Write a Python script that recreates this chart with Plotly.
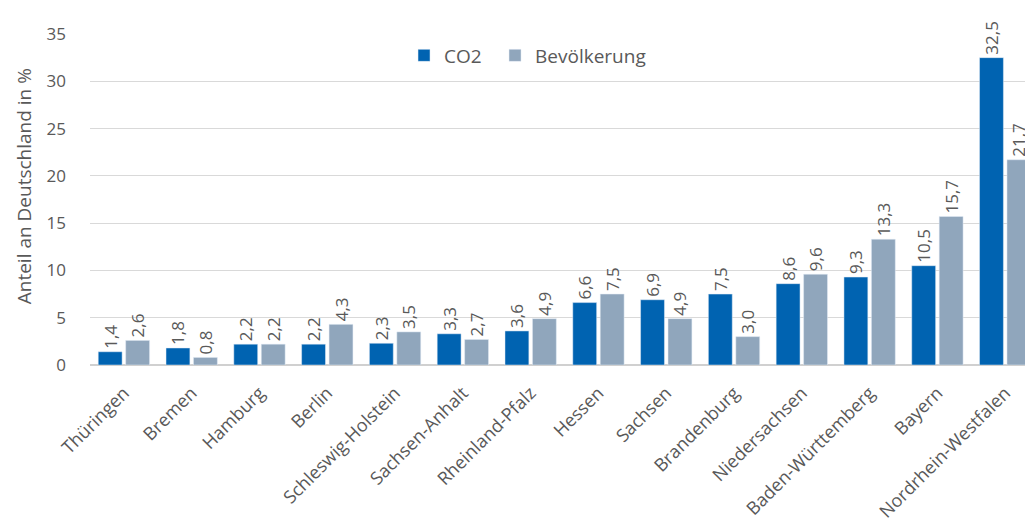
import plotly.graph_objects as go

states = ["Thüringen", "Bremen", "Hamburg", "Berlin", "Schleswig-Holstein", "Sachsen-Anhalt",
          "Rheinland-Pfalz", "Hessen", "Sachsen", "Brandenburg", "Niedersachsen",
          "Baden-Württemberg", "Bayern", "Nordrhein-Westfalen"]
co2 = [1.4, 1.8, 2.2, 2.2, 2.3, 3.3, 3.6, 6.6, 6.9, 7.5, 8.6, 9.3, 10.5, 32.5]
bevoelkerung = [2.6, 0.8, 2.2, 4.3, 3.5, 2.7, 4.9, 7.5, 4.9, 3.0, 9.6, 13.3, 15.7, 21.7]
y_ticks = [0, 5, 10, 15, 20, 25, 30, 35]


def fmt(v):
    return f"{v:.1f}".replace(".", ",")


FONT = "Open Sans, Lato, sans-serif"
TEXTC = "#595959"

fig = go.Figure()
fig.add_trace(go.Bar(
    name="CO2", x=states, y=co2, marker_color="#0063B1",
    text=[fmt(v) for v in co2], textposition="outside", textangle=-90,
    constraintext="none", legend="legend",
    textfont=dict(family=FONT, size=17, color=TEXTC), cliponaxis=False,
))
fig.add_trace(go.Bar(
    name="Bevölkerung", x=states, y=bevoelkerung, marker_color="#90A6BC",
    text=[fmt(v) for v in bevoelkerung], textposition="outside", textangle=-90,
    constraintext="none", legend="legend2",
    textfont=dict(family=FONT, size=17, color=TEXTC), cliponaxis=False,
))

legend_style = dict(orientation="h", y=0.935, xanchor="left", yanchor="middle",
                    font=dict(family=FONT, size=19, color=TEXTC),
                    bgcolor="rgba(0,0,0,0)", itemwidth=30)

# the page body adds an 8px margin, so the figure is sized to end at the window edge
fig.update_layout(
    width=1025, height=515,
    margin=dict(l=82, r=0, t=26, b=158, autoexpand=False),
    paper_bgcolor="white", plot_bgcolor="white",
    barmode="group", bargap=0.19, bargroupgap=0.13,
    font=dict(family=FONT, color=TEXTC, size=17),
    legend=dict(x=0.333, **legend_style),
    legend2=dict(x=0.4295, **legend_style),
    showlegend=True,
    annotations=[dict(
        text="Anteil an Deutschland in %", textangle=-90, showarrow=False,
        xref="paper", yref="paper", x=-0.07, y=0.54, xanchor="center", yanchor="middle",
        font=dict(family=FONT, size=19, color=TEXTC),
    )],
)
fig.update_xaxes(
    range=[-0.5, 13.41], tickangle=-45, showgrid=False, showline=False, automargin=False,
    tickfont=dict(family=FONT, size=18, color=TEXTC), ticks="", ticklabelstandoff=13,
)
fig.update_yaxes(
    range=[0, 35], tickvals=y_ticks, showgrid=True, gridcolor="#D9D9D9", gridwidth=1,
    zeroline=True, zerolinecolor="#D0D0D0", zerolinewidth=2, automargin=False,
    tickfont=dict(family=FONT, size=17, color=TEXTC), ticks="", ticklabelstandoff=23,
)

fig.write_html("out.html")
